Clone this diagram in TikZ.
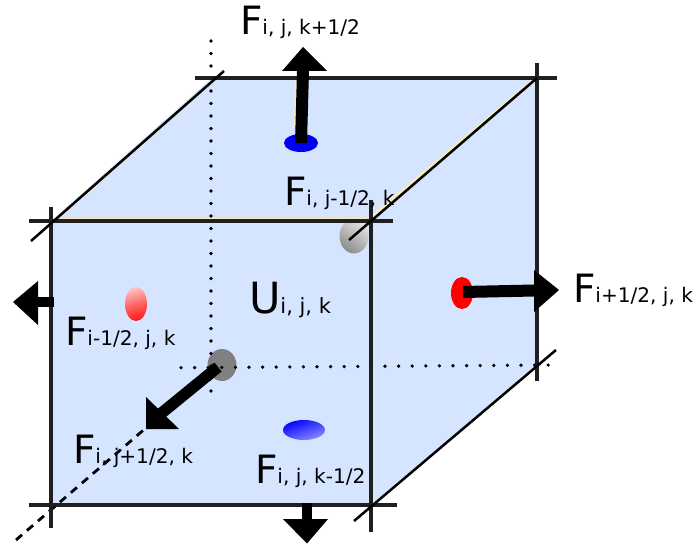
\documentclass[tikz,border=0pt]{standalone}
\usepackage{fontspec}
\setmainfont{DejaVu Sans}
\usetikzlibrary{shapes.geometric}
\newcommand{\flabel}[2]{{\fontsize{39}{39}\selectfont #1}{\fontsize{20.1}{20}\selectfont #2}}
\tikzset{
 edgeline/.style={draw=black!88,line width=3.3pt},
 thinedge/.style={draw=black,line width=2.5pt},
 creamedge/.style={draw={rgb,255:red,250;green,235;blue,185},line width=2.2pt},
 dotv/.style={draw=black,line width=3.6pt,line cap=round,dash pattern=on 0pt off 12.5pt},
 doth/.style={draw=black,line width=3.6pt,line cap=round,dash pattern=on 0pt off 13.6pt},
 dashline/.style={draw=black,line width=2.8pt,dash pattern=on 8pt off 6.5pt},
 shaft/.style={draw=black,line width=#1},
 headfill/.style={fill=black},
 spot/.style={ellipse,inner sep=0pt,outer sep=0pt,draw=none},
 lab/.style={anchor=base west,inner sep=0pt,outer sep=0pt,text=black},
}
\begin{document}
\begin{tikzpicture}[x=1pt,y=-1pt]
\useasboundingbox (0,0) rectangle (695,545);
\fill[white] (0,0) rectangle (695,545);
% coordinates
\coordinate (ftl) at (51,221); \coordinate (ftr) at (371,221);
\coordinate (fbl) at (51,505); \coordinate (fbr) at (371,505);
\coordinate (btl) at (212,78); \coordinate (btr) at (537,78);
\coordinate (bbr) at (537,365);
% faces
\fill[fill={rgb,255:red,213;green,229;blue,255}] (ftl)--(btl)--(btr)--(bbr)--(fbr)--(fbl)--cycle;
\draw[creamedge] (56,219)--(371,219);
\draw[creamedge] (54,222)--(214,80);
\draw[creamedge] (369,219)--(534,79);
\draw[creamedge] (296,80)--(295,128);
% spots
\node[spot,minimum width=34pt,minimum height=18pt,fill={rgb,255:red,0;green,0;blue,240}] (top) at (301,143) {};
\node[spot,minimum width=29pt,minimum height=32pt,fill=black!50] (front) at (222,365) {};
\node[spot,minimum width=29pt,minimum height=35pt,left color=black!10,right color=black!45,shading angle=-35] (back) at (354,236) {};
\node[spot,minimum width=22pt,minimum height=34pt,left color=red!25,right color=red!90,middle color=red!60,shading angle=15] (left) at (136,304) {};
\node[spot,minimum width=42pt,minimum height=20pt,left color=blue,right color=blue!45,shading angle=20] (bottom) at (304,430) {};
\node[spot,minimum width=22pt,minimum height=32pt,fill=red] (right) at (462,293) {};
% dotted axes
\coordinate (vd1) at (211,41); \coordinate (vd2) at (211,403);
\coordinate (hd1) at (181,367.7); \coordinate (hd2) at (552,365);
\draw[dotv] (vd1)--(vd2);
\draw[doth] (hd1)--(hd2);
% dashed axis
\coordinate (da1) at (16,540); \coordinate (da2) at (147,427);
\draw[dashline] (da1)--(da2);
% frame lines
\coordinate (a1) at (29,221); \coordinate (a2) at (393,221);
\coordinate (b1) at (29,505); \coordinate (b2) at (397,505);
\coordinate (c1) at (195,78); \coordinate (c2) at (557,78);
\coordinate (d1) at (51,207); \coordinate (d2) at (51,528);
\coordinate (e1) at (371,200); \coordinate (e2) at (371,532);
\coordinate (f1) at (537,63); \coordinate (f2) at (537,381);
\coordinate (g1) at (31,241); \coordinate (g2) at (224,71);
\coordinate (h1) at (349,240); \coordinate (h2) at (537,78);
\coordinate (i1) at (354,521); \coordinate (i2) at (556,350);
\foreach \p/\q in {a1/a2,b1/b2,c1/c2,d1/d2,e1/e2,f1/f2}{\draw[edgeline] (\p)--(\q);}
\foreach \p/\q in {g1/g2,h1/h2,i1/i2}{\draw[thinedge] (\p)--(\q);}
% arrows: shafts and heads
\coordinate (topbase) at (303,71);
\draw[shaft=12pt] (top.center)--(topbase);
\fill[headfill] (282,71)--(303,47)--(327,71)--cycle;
\coordinate (leftb) at (54,302); \coordinate (leftbase) at (38,302);
\draw[shaft=10.5pt] (leftb)--(leftbase);
\fill[headfill] (38,281)--(13,302)--(38,325)--cycle;
\coordinate (rightbase) at (535,290.5);
\draw[shaft=12pt] (463,292)--(rightbase);
\fill[headfill] (534,270)--(559,290)--(534,312)--cycle;
\coordinate (botb) at (307,503); \coordinate (botbase) at (307,519);
\draw[shaft=10.5pt] (botb)--(botbase);
\fill[headfill] (283,519)--(307,543.5)--(328,519)--cycle;
\draw[shaft=11.5pt] (218,367)--(158,416);
\fill[headfill] (146,397)--(179,429)--(146,429)--cycle;
% labels
\node[lab] (l1) at (240,35) {\flabel{F}{i, j, k+1/2}};
\node[lab] (l2) at (284,206) {\flabel{F}{i, j-1/2, k}};
\node[lab] (l3) at (249,313.5) {{\fontsize{43}{43}\selectfont U}{\fontsize{21}{21}\selectfont i, j, k}};
\node[lab] (l4) at (65,345) {\flabel{F}{i-1/2, j, k}};
\node[lab] (l5) at (73,463) {\flabel{F}{i, j+1/2, k}};
\node[lab] (l6) at (255,483) {\flabel{F}{i, j, k-1/2}};
\node[lab] (l7) at (573,302) {\flabel{F}{i+1/2, j, k}};
\end{tikzpicture}
\end{document}
